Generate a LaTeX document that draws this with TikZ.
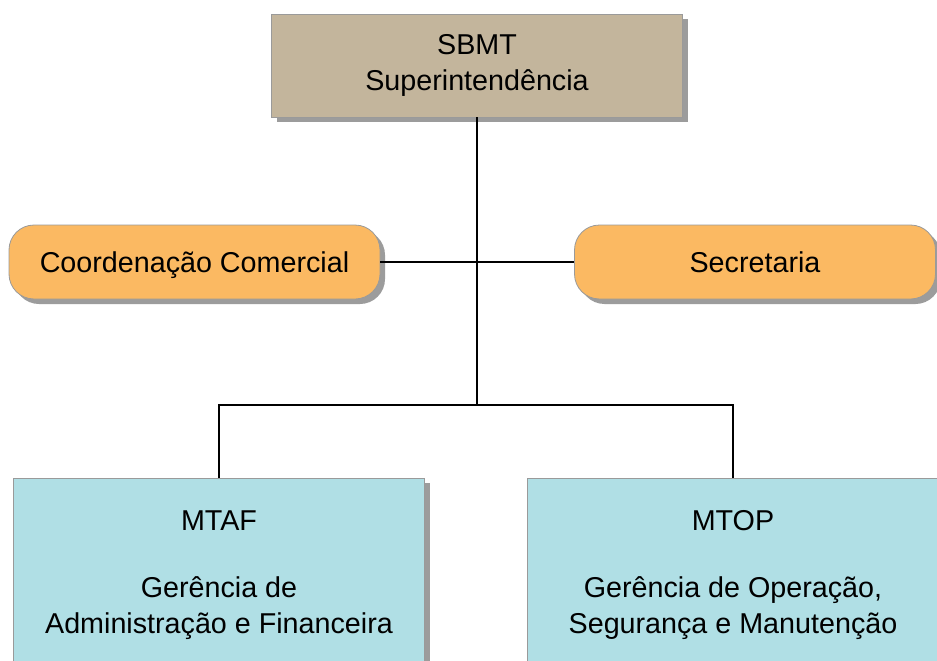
\documentclass[tikz,border=0pt]{standalone}
\usepackage{fontspec}
\setmainfont{Liberation Sans}
\usetikzlibrary{shadows}
\definecolor{tanfill}{HTML}{C3B59C}
\definecolor{orangefill}{HTML}{FBB962}
\definecolor{bluefill}{HTML}{B0DFE5}
\definecolor{edgegray}{HTML}{9A9A9A}
\definecolor{shadowgray}{HTML}{9C9C9C}
\tikzset{
  boxbase/.style={draw=edgegray, line width=0.8pt, inner sep=0pt, align=center,
    font=\fontsize{28.7}{36}\selectfont,
    drop shadow={shadow xshift=5pt, shadow yshift=-5pt, fill=shadowgray, opacity=1}},
  topbox/.style={boxbase, fill=tanfill, minimum width=411pt, minimum height=103pt},
  sidebox/.style={boxbase, fill=orangefill, rounded corners=25pt, minimum height=74pt,
    text height=21pt, text depth=0pt},
  lowbox/.style={boxbase, fill=bluefill, minimum width=411pt, minimum height=194pt},
  conn/.style={line width=1.7pt, black}
}
\begin{document}
\begin{tikzpicture}[x=1pt,y=-1pt]
\useasboundingbox (0,0) rectangle (937,661);
\clip (0,0) rectangle (937,661);
\fill[white] (0,0) rectangle (937,661);
\node[topbox] (sbmt) at (477,65.5) {SBMT\\Superintendência};
\node[sidebox, minimum width=371pt] (coord) at (194.5,262) {Coordenação Comercial};
\node[sidebox, minimum width=361pt] (secr) at (755,262) {Secretaria};
\node[lowbox] (mtaf) at (219,575) {MTAF\\[31pt]Gerência de\\Administração e Financeira};
\node[lowbox] (mtop) at (733,575) {MTOP\\[31pt]Gerência de Operação,\\Segurança e Manutenção};
\coordinate (j) at (477,405);
\draw[conn] (sbmt.south) -- (j);
\draw[conn] (coord.east) -- (secr.west);
\draw[conn] (j) -| (mtaf.north);
\draw[conn] (j) -| (mtop.north);
\end{tikzpicture}
\end{document}
